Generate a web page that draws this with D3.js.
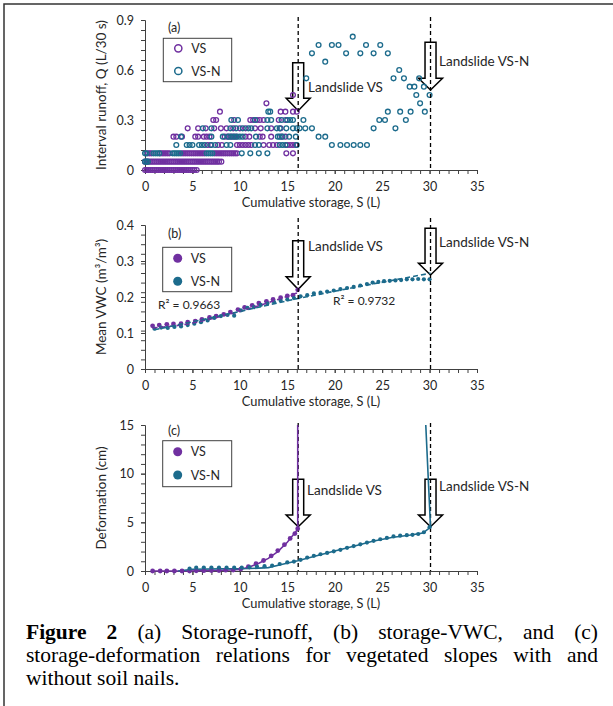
<!DOCTYPE html>
<html>
<head>
<meta charset="utf-8">
<script src="https://cdn.jsdelivr.net/npm/d3@7"></script>
<style>
  body { margin: 0; background: #fff; }
  svg text { font-family: Lato, "Open Sans", sans-serif; fill: #262626; }
  svg text.cap { font-family: "Liberation Serif", "Times New Roman", serif; fill: #000; }
</style>
</head>
<body>
<svg id="fig" width="613" height="706"></svg>
<script>
// ---- data ----
var xTicks = [0, 5, 10, 15, 20, 25, 30, 35];
var seriesNames = ["VS", "VS-N"];
var seriesColors = ["#7030a0", "#1c6b8c"];
var landslideS = [16.15, 30.1];
var landslideNames = ["Landslide VS", "Landslide VS-N"];

// (a) runoff: [Q, list of S] rows
var runoffTicks = [0, 0.3, 0.6, 0.9];
var runoffVS = [
  [0, [0,0.2,0.4,0.6,0.8,1.0,1.2,1.4,1.6,1.8,2.0,2.2,2.4,2.6,2.8,3.0,3.2,3.4,3.6,3.8,4.0,4.2,4.4,4.6,4.8,5.0,5.2,5.45]],
  [0.05, [0,0.2,0.4,0.6,0.8,1.0,1.2,1.4,1.6,1.8,2.0,2.2,2.4,2.6,2.8,3.0,3.2,3.4,3.6,3.8,4.0,4.2,4.4,4.6,4.8,5.0,5.2,5.4,5.6,5.8,6.0,6.2,6.4,6.6,6.8,7.0,7.2,7.4,7.6,7.8,8.05]],
  [0.1, [0.3,0.5,0.7,1.6,1.8,2.0,2.2,2.4,2.6,3.9,4.1,4.3,4.5,4.7,4.9,5.1,5.3,5.5,5.7,5.9,6.1,6.3,7.3,7.5,7.7,7.9,8.1,8.3,8.5,8.7,8.9,9.1,9.3,9.5,9.7,14.9,15.6]],
  [0.15, [6.6,6.9,7.7,8.1,9.7,10.0,10.3,10.6,10.9,11.2,12.5,13.1,13.5,13.9,15.0,15.3,15.6,15.9]],
  [0.2, [3.0,3.3,3.9,5.3,5.6,6.2,6.5,6.8,8.4,8.7,9.0,9.3,9.6,10.6,11.0,12.1,12.4,13.3,14.4,14.8]],
  [0.25, [4.5,5.6,6.4,7.3,8.0,8.6,9.3,10.0,10.6,11.6,12.2,13.3,14.3]],
  [0.3, [7.2,7.5,9.4,11.1,11.4,11.8,12.1,12.5,14.1,14.8]],
  [0.35, [7.9,14.3,14.8,15.6,16.0]],
  [0.4, [12.8]],
  [0.45, [15.6]]
];
var runoffVSN = [
  [0.05, [0,0.15,0.3]],
  [0.1, [0,0.15,0.9,1.1,1.3,1.5,2.9,3.1,3.3,3.5,3.7,6.5,6.7,6.9,7.1,10.2,11.1,12.0,12.9]],
  [0.15, [3.3,4.4,4.7,5.0,5.7,6.0,6.3,7.0,7.4,8.6,9.0,11.6,12.0,14.2,14.5,14.8,16.0,19.7,20.6,21.3,22.0,22.7,23.4]],
  [0.2, [3.8,7.0,8.2,8.8,9.1,9.4,9.7,10.0,10.3,11.7,14.0,14.2,14.5,15.2,15.9,18.3,19.0]],
  [0.25, [6.1,7.0,9.0,9.6,10.3,10.9,11.2,12.9,13.9,14.2,14.9,15.6,16.0,16.3,16.9,17.6,24.1,26.4]],
  [0.3, [9.1,9.8,11.6,12.9,13.3,14.4,15.0,15.3,15.6,16.7,24.7,25.3,27.5]],
  [0.35, [13.0,13.2,25.6,26.9,28.0,29.5]],
  [0.4, [29.0]],
  [0.45, [28.6,30.0]],
  [0.5, [27.9,28.4,29.4]],
  [0.55, [17.0,26.2,27.3,28.9]],
  [0.6, [26.8]],
  [0.65, [19.0]],
  [0.7, [17.6,21.2,22.7,24.1,25.6]],
  [0.75, [18.3,19.7,20.4,23.3,24.8]],
  [0.8, [21.9]]
];

// (b) mean VWC: [S, VWC]
var vwcTicks = [0, 0.1, 0.2, 0.3, 0.4];
var vwcVS = [[0.8,0.120],[1.5,0.122],[2.3,0.124],[3.0,0.125],[3.8,0.126],[4.5,0.130],[5.3,0.133],[6.0,0.138],[6.8,0.143],[7.5,0.147],[8.3,0.152],[9.0,0.158],[9.8,0.165],[10.5,0.171],[11.3,0.177],[12.0,0.183],[12.8,0.188],[13.5,0.193],[14.3,0.198],[15.0,0.203],[15.6,0.205],[16.1,0.220]];
var vwcVSN = [[1.0,0.112],[1.7,0.115],[2.4,0.114],[3.1,0.117],[3.8,0.118],[4.5,0.122],[5.2,0.126],[5.9,0.130],[6.6,0.135],[7.3,0.142],[8.0,0.147],[8.7,0.150],[9.4,0.148],[10.1,0.163],[10.8,0.170],[11.5,0.172],[12.2,0.178],[12.9,0.182],[13.6,0.186],[14.3,0.190],[15.0,0.193],[15.7,0.197],[16.4,0.202],[17.1,0.205],[17.8,0.210],[18.5,0.212],[19.2,0.215],[19.9,0.218],[20.6,0.222],[21.3,0.225],[22.0,0.228],[22.7,0.232],[23.4,0.236],[24.0,0.240],[24.6,0.242],[25.2,0.244],[25.8,0.245],[26.4,0.246],[27.0,0.247],[27.6,0.249],[28.2,0.249],[28.8,0.250],[29.4,0.249],[30.0,0.249]];
var vwcTrendVS = [[0.8,0.114],[4,0.123],[8,0.146],[12,0.176],[16.1,0.212]];
var vwcTrendVSN = [[1,0.109],[8,0.148],[16,0.195],[23,0.231],[30.1,0.266]];
var r2Labels = ["R\u00b2 = 0.9663", "R\u00b2 = 0.9732"];

// (c) deformation: [S, cm]
var defTicks = [0, 5, 10, 15];
var defVS = [[0.8,0],[1.6,0],[2.3,0],[3.1,0],[3.9,0],[4.7,0],[5.4,0.02],[6.2,0.03],[7.0,0.05],[7.8,0.05],[8.5,0.08],[9.3,0.1],[10.1,0.2],[10.9,0.45],[11.7,0.75],[12.5,1.08],[13.3,1.55],[14.0,2.1],[14.7,2.7],[15.3,3.35],[15.8,3.85],[16.1,4.35]];
var defVSN = [[4.7,0.25],[5.4,0.34],[6.2,0.36],[7.0,0.36],[7.8,0.35],[8.6,0.35],[9.4,0.34],[10.2,0.35],[11.0,0.38],[11.8,0.45],[12.6,0.5],[13.4,0.56],[14.2,0.72],[15.0,0.88],[15.7,0.97],[16.4,1.15],[17.1,1.38],[17.8,1.56],[18.5,1.72],[19.2,1.86],[19.9,2.02],[20.6,2.18],[21.3,2.38],[22.0,2.56],[22.7,2.74],[23.4,2.92],[24.1,3.1],[24.8,3.26],[25.5,3.4],[26.2,3.55],[26.9,3.63],[27.6,3.68],[28.2,3.72],[28.8,3.8],[29.4,3.98],[30.0,4.5]];
var defLineVS = [[0.8,0],[4,0],[8,0.05],[10,0.15],[11,0.42],[12,0.8],[13,1.3],[14,2.0],[15,2.95],[16.1,4.3],[16.1,15]];
var defLineVSN = [[3.5,0],[5,0.18],[8,0.22],[11,0.25],[13,0.35],[14.5,0.7],[16.1,1.05],[18,1.55],[20,2.05],[22,2.55],[24,3.05],[26,3.45],[28,3.7],[29.3,3.9],[30.1,4.5],[29.6,15]];

var captionLines = [
  ["Figure", "2", "(a)", "Storage-runoff,", "(b)", "storage-VWC,", "and", "(c)"],
  ["storage-deformation", "relations", "for", "vegetated", "slopes", "with", "and"],
  ["without soil nails."]
];

// ---- drawing ----
var svg = d3.select("#fig");
var axisColor = "#404040";
var x = d3.scaleLinear().domain([0, 35]).range([145, 477]);

// outer frame (top and left edges visible)
svg.append("path").attr("d", "M4,706V4H613").attr("fill", "none")
   .attr("stroke", "#333").attr("stroke-width", 1.5);

function styleAxis(sel){
   sel.attr("font-family", null).attr("font-size", null);
   sel.select(".domain").attr("stroke", axisColor);
   sel.selectAll(".tick line").attr("stroke", axisColor);
   sel.selectAll(".tick text").attr("font-size", 12.5).attr("fill", "#262626");
}

function makePanel(p){
   var y = d3.scaleLinear().domain([0, p.max]).range([p.bottom, p.top]);
   var g = svg.append("g");
   var minorY = d3.range(0, p.max + 1e-9, p.max / 15);
   var minorX = d3.range(0, 35.01, 1);

   g.append("g").attr("transform", "translate(0," + p.bottom + ")")
      .call(d3.axisBottom(x).tickValues(minorX).tickSize(4).tickSizeOuter(0).tickFormat(""))
      .call(styleAxis);
   g.append("g").attr("transform", "translate(0," + p.bottom + ")")
      .call(d3.axisBottom(x).tickValues(xTicks).tickSize(4).tickSizeOuter(0).tickPadding(8))
      .call(styleAxis);
   g.append("g").attr("transform", "translate(145,0)")
      .call(d3.axisLeft(y).tickValues(minorY).tickSize(4).tickSizeOuter(0).tickFormat(""))
      .call(styleAxis);
   g.append("g").attr("transform", "translate(145,0)")
      .call(d3.axisLeft(y).tickValues(p.ticks).tickSize(4).tickSizeOuter(0).tickPadding(7).tickFormat(d3.format("")))
      .call(styleAxis);

   g.append("text").attr("x", 311).attr("y", p.bottom + 37).attr("text-anchor", "middle")
      .attr("font-size", 12.8).text("Cumulative storage, S (L)");
   g.append("text").attr("transform", "translate(106," + ((p.top + p.bottom) / 2) + ") rotate(-90)")
      .attr("text-anchor", "middle").attr("font-size", 13.5).text(p.yTitle);
   g.append("text").attr("x", 168).attr("y", p.labelY).attr("font-size", 12.5).text(p.label);
   return {g: g, y: y};
}

function blockArrow(g, cx, top, headTop, tip){
   var sw = 5.5, hw = 12;
   var d = "M" + (cx - sw) + "," + top + "H" + (cx + sw) + "V" + headTop + "H" + (cx + hw) +
      "L" + cx + "," + tip + "L" + (cx - hw) + "," + headTop + "H" + (cx - sw) + "Z";
   g.append("path").attr("d", d).attr("fill", "#fff").attr("stroke", "#000").attr("stroke-width", 1.5);
}

function landslides(g, p, arrows){
   arrows.forEach(function(a, i){
      blockArrow(g, x(landslideS[i]), a[0], a[1], a[2]);
      g.append("text").attr("x", a[3]).attr("y", a[4] + 4.5).attr("font-size", 13.5).text(landslideNames[i]);
   });
}

function dashes(g, p){
   landslideS.forEach(function(s){
      g.append("line").attr("x1", x(s)).attr("x2", x(s)).attr("y1", p.dashTop).attr("y2", p.bottom)
         .attr("stroke", "#000").attr("stroke-width", 1.3).attr("stroke-dasharray", "4,3");
   });
}

function legend(g, box, filled){
   g.append("rect").attr("x", box[0]).attr("y", box[1]).attr("width", box[2]).attr("height", box[3])
      .attr("fill", "#fff").attr("stroke", axisColor).attr("stroke-width", 1);
   seriesNames.forEach(function(n, i){
      var cy = box[1] + box[4] + i * box[5];
      var c = g.append("circle").attr("cx", box[0] + 15).attr("cy", cy);
      if (filled) c.attr("r", 4.5).attr("fill", seriesColors[i]);
      else c.attr("r", 3.6).attr("fill", "none").attr("stroke", seriesColors[i]).attr("stroke-width", 1.5);
      g.append("text").attr("x", box[0] + 28).attr("y", cy + 4.5).attr("font-size", 12.5).text(n);
   });
}

// (a)
var pa = {top: 20, bottom: 170, max: 0.9, ticks: runoffTicks, yTitle: "Interval runoff, Q (L/30 s)", label: "(a)", labelY: 32, dashTop: 17};
var A = makePanel(pa);
landslides(A.g, pa, [[62.7, 98.3, 110.7, 308, 87.7], [42.3, 78.3, 90, 439, 61]]);
[runoffVS, runoffVSN].forEach(function(rows, i){
   var pts = [];
   rows.forEach(function(r){ r[1].forEach(function(s){ pts.push([s, r[0]]); }); });
   A.g.append("g").selectAll("circle").data(pts).enter().append("circle")
      .attr("cx", function(d){ return x(d[0]); }).attr("cy", function(d){ return A.y(d[1]); })
      .attr("r", 2.4).attr("fill", "none").attr("stroke", seriesColors[i]).attr("stroke-width", 1.3);
});
dashes(A.g, pa);
legend(A.g, [163.3, 38.3, 68.4, 43.4, 10, 22.7], false);

// (b)
var pb = {top: 225, bottom: 369, max: 0.4, ticks: vwcTicks, yTitle: "Mean VWC (m\u00b3/m\u00b3)", label: "(b)", labelY: 237.5, dashTop: 218};
var B = makePanel(pb);
landslides(B.g, pb, [[240.7, 276.7, 289.3, 308, 246], [228.3, 263.3, 275, 439, 242.3]]);
var lineB = d3.line().x(function(d){ return x(d[0]); }).y(function(d){ return B.y(d[1]); }).curve(d3.curveMonotoneX);
[vwcVS, vwcVSN].forEach(function(pts, i){
   B.g.append("g").selectAll("circle").data(pts).enter().append("circle")
      .attr("cx", function(d){ return x(d[0]); }).attr("cy", function(d){ return B.y(d[1]); })
      .attr("r", i === 0 ? 2.4 : 2.1).attr("fill", seriesColors[i]);
});
[vwcTrendVS, vwcTrendVSN].forEach(function(pts, i){
   B.g.append("path").attr("d", lineB(pts)).attr("fill", "none").attr("stroke", seriesColors[i])
      .attr("stroke-width", 1.6).attr("stroke-dasharray", "5,3");
});
B.g.append("text").attr("x", 158).attr("y", 309).attr("font-size", 12).text(r2Labels[0]);
B.g.append("text").attr("x", 333).attr("y", 305).attr("font-size", 12).text(r2Labels[1]);
dashes(B.g, pb);
legend(B.g, [162.7, 247.3, 69, 44.4, 11, 23], true);

// (c)
var pc = {top: 425, bottom: 571, max: 15, ticks: defTicks, yTitle: "Deformation (cm)", label: "(c)", labelY: 434.5, dashTop: 423};
var C = makePanel(pc);
landslides(C.g, pc, [[479.3, 515, 526.7, 307, 490], [479.3, 515, 526.7, 439, 486]]);
var lineC = d3.line().x(function(d){ return x(d[0]); }).y(function(d){ return C.y(d[1]); });
dashes(C.g, pc);
[defLineVS, defLineVSN].forEach(function(pts, i){
   C.g.append("path").attr("d", lineC(pts)).attr("fill", "none").attr("stroke", seriesColors[i]).attr("stroke-width", 1.6);
});
[defVS, defVSN].forEach(function(pts, i){
   C.g.append("g").selectAll("circle").data(pts).enter().append("circle")
      .attr("cx", function(d){ return x(d[0]); }).attr("cy", function(d){ return C.y(d[1]); })
      .attr("r", i === 0 ? 2.4 : 2.1).attr("fill", seriesColors[i]);
});
legend(C.g, [162.7, 440.7, 69, 46, 11, 23.3], true);

// caption, justified like the source text
var capX0 = 26, capX1 = 598, capY = [639, 662, 685];
captionLines.forEach(function(words, li){
   var g = svg.append("g");
   var nodes = words.map(function(w, i){
      return g.append("text").attr("class", "cap").attr("y", capY[li]).attr("font-size", 21.5)
         .attr("font-weight", (li === 0 && i < 2) ? "bold" : "normal").text(w);
   });
   if (words.length === 1) { nodes[0].attr("x", capX0); return; }
   var widths = nodes.map(function(n){ return n.node().getComputedTextLength(); });
   var gap = (capX1 - capX0 - d3.sum(widths)) / (words.length - 1);
   var cx = capX0;
   nodes.forEach(function(n, i){ n.attr("x", cx); cx += widths[i] + gap; });
});
</script>
</body>
</html>
